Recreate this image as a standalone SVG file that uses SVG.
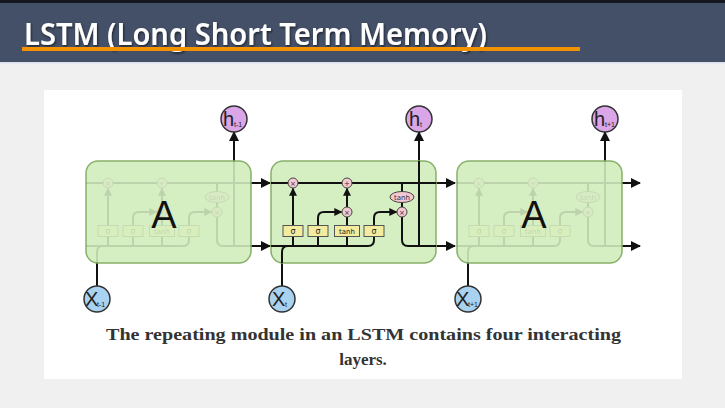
<svg xmlns="http://www.w3.org/2000/svg" xmlns:xlink="http://www.w3.org/1999/xlink" width="725" height="408" viewBox="0 0 725 408">
  <defs>
    <style>
      .ln { fill: none; stroke: #111; stroke-width: 2; }
      .box { fill: #d5efc2; stroke: #86b06a; stroke-width: 1.5; }
      .gate { fill: #f3ec9e; stroke: #555; stroke-width: 1; }
      .op { fill: #f4c9d3; stroke: #444; stroke-width: 1; }
      .gt { font-family: "DejaVu Sans", sans-serif; font-size: 8px; fill: #222; text-anchor: middle; }
      .ot { font-family: "DejaVu Sans", sans-serif; font-size: 7px; fill: #333; text-anchor: middle; }
      .hc { fill: #dba6e8; stroke: #333; stroke-width: 1.5; }
      .xc { fill: #a9d2f0; stroke: #333; stroke-width: 1.5; }
      .lbl { font-family: "Liberation Sans", sans-serif; font-size: 20px; fill: #222; }
      .sub { font-family: "Liberation Sans", sans-serif; font-size: 7px; fill: #222; }
      .big { font-family: "Liberation Sans", sans-serif; font-size: 38px; fill: #111; text-anchor: middle; }
      .cap { font-family: "Liberation Serif", serif; font-size: 17px; font-weight: bold; fill: #333; }
    </style>
    <marker id="ah" viewBox="0 0 10 10" refX="9" refY="5" markerWidth="5" markerHeight="5" orient="auto" markerUnits="strokeWidth">
      <path d="M0,0 L10,5 L0,10 z" fill="#111"/>
    </marker>
    <marker id="ahs" viewBox="0 0 10 10" refX="9" refY="5" markerWidth="4" markerHeight="4" orient="auto" markerUnits="strokeWidth">
      <path d="M0,0 L10,5 L0,10 z" fill="#111"/>
    </marker>
    <filter id="tsh" x="-5%" y="-20%" width="110%" height="140%">
      <feDropShadow dx="1" dy="1.5" stdDeviation="0.8" flood-color="#000" flood-opacity="0.55"/>
    </filter>

    <!-- inner wiring of one LSTM cell, x relative to the cell's left edge -->
    <g id="cell">
      <!-- cell state -->
      <path class="ln" d="M148,246 V161"/>
      <path class="ln" d="M0,183 H165"/>
      <!-- hidden/input bus -->
      <path class="ln" d="M0,246 H97 Q103,246 103,240 V236"/>
      <path class="ln" d="M11,263 V252 Q11,246 17,246"/>
      <path class="ln" d="M22,246 V236"/>
      <path class="ln" d="M47,246 V236"/>
      <path class="ln" d="M76,246 V236"/>
      <!-- gates to pointwise ops -->
      <path class="ln" d="M22,225 V188.5" marker-end="url(#ahs)"/>
      <path class="ln" d="M47,225 V218 Q47,212 53,212 H70.5" marker-end="url(#ahs)"/>
      <path class="ln" d="M76,225 V217"/>
      <path class="ln" d="M76,207 V188.5" marker-end="url(#ahs)"/>
      <path class="ln" d="M103,225 V218 Q103,212 109,212 H125.5" marker-end="url(#ahs)"/>
      <path class="ln" d="M131,183 V207"/>
      <path class="ln" d="M131,217 V240 Q131,246 137,246 H165"/>
      <!-- pointwise operations -->
      <circle class="op" cx="22" cy="183" r="5"/>
      <text class="ot" x="22" y="185.5">×</text>
      <circle class="op" cx="76" cy="183" r="5"/>
      <text class="ot" x="76" y="185.5">+</text>
      <circle class="op" cx="76" cy="212" r="5"/>
      <text class="ot" x="76" y="214.5">×</text>
      <circle class="op" cx="131" cy="212" r="5"/>
      <text class="ot" x="131" y="214.5">×</text>
      <ellipse class="op" cx="131" cy="197" rx="12" ry="5.5"/>
      <text class="ot" x="131" y="199.5">tanh</text>
      <!-- neural network layers -->
      <rect class="gate" x="12" y="225.5" width="20" height="11"/>
      <text class="gt" x="22" y="234">σ</text>
      <rect class="gate" x="37" y="225.5" width="20" height="11"/>
      <text class="gt" x="47" y="234">σ</text>
      <rect class="gate" x="63.5" y="225.5" width="25" height="11"/>
      <text class="gt" x="76" y="233.5" style="font-size:7px">tanh</text>
      <rect class="gate" x="93" y="225.5" width="20" height="11"/>
      <text class="gt" x="103" y="234">σ</text>
    </g>
  </defs>

  <!-- slide background -->
  <rect width="725" height="408" fill="#f0f0f0"/>
  <rect width="725" height="62" fill="#445068"/>
  <rect width="725" height="3" fill="#15181f"/>
  <rect y="62" width="725" height="1.5" fill="#dde1ef"/>
  <text x="24" y="45" font-family="'Noto Sans', 'Open Sans', sans-serif" font-size="30" font-weight="600" fill="#ffffff" textLength="463" lengthAdjust="spacingAndGlyphs" filter="url(#tsh)">LSTM (Long Short Term Memory)</text>
  <rect x="22" y="47" width="558" height="4" fill="#f39200"/>

  <!-- figure panel -->
  <rect x="44" y="90" width="638" height="289" fill="#ffffff"/>

  <!-- connectors between cells, inputs and outputs -->
  <g id="connectors">
    <path class="ln" d="M251,183 H270" marker-end="url(#ah)"/>
    <path class="ln" d="M251,246 H270" marker-end="url(#ah)"/>
    <path class="ln" d="M436,183 H455" marker-end="url(#ah)"/>
    <path class="ln" d="M436,246 H455" marker-end="url(#ah)"/>
    <path class="ln" d="M622,183 H640" marker-end="url(#ah)"/>
    <path class="ln" d="M622,246 H640" marker-end="url(#ah)"/>
    <path class="ln" d="M234,161 V132" marker-end="url(#ah)"/>
    <path class="ln" d="M419,161 V132" marker-end="url(#ah)"/>
    <path class="ln" d="M605,161 V132" marker-end="url(#ah)"/>
    <path class="ln" d="M97,286 V263"/>
    <path class="ln" d="M282,286 V263"/>
    <path class="ln" d="M468,286 V263"/>
  </g>

  <!-- previous cell (faded) -->
  <g id="cell-prev">
    <rect class="box" x="86" y="161" width="165" height="102" rx="12"/>
    <use xlink:href="#cell" href="#cell" transform="translate(86,0)" opacity="0.12"/>
    <text class="big" x="164" y="228">A</text>
  </g>

  <!-- current cell -->
  <g id="cell-cur">
    <rect class="box" x="271" y="161" width="165" height="102" rx="12"/>
    <use xlink:href="#cell" href="#cell" transform="translate(271,0)"/>
  </g>

  <!-- next cell (faded) -->
  <g id="cell-next">
    <rect class="box" x="457" y="161" width="165" height="102" rx="12"/>
    <use xlink:href="#cell" href="#cell" transform="translate(457,0)" opacity="0.12"/>
    <text class="big" x="534" y="228">A</text>
  </g>

  <!-- outputs -->
  <g id="h-prev">
    <circle class="hc" cx="234" cy="119" r="13"/>
    <text class="lbl" x="223" y="126">h</text><text class="sub" x="234" y="127">t-1</text>
  </g>
  <g id="h-cur">
    <circle class="hc" cx="419" cy="119" r="13"/>
    <text class="lbl" x="409" y="126">h</text><text class="sub" x="420" y="127">t</text>
  </g>
  <g id="h-next">
    <circle class="hc" cx="605" cy="119" r="13"/>
    <text class="lbl" x="594" y="126">h</text><text class="sub" x="605" y="127">t+1</text>
  </g>

  <!-- inputs -->
  <g id="x-prev">
    <circle class="xc" cx="97" cy="299" r="13"/>
    <text class="lbl" x="85" y="306">X</text><text class="sub" x="97" y="307">t-1</text>
  </g>
  <g id="x-cur">
    <circle class="xc" cx="282" cy="299" r="13"/>
    <text class="lbl" x="272" y="306">X</text><text class="sub" x="285" y="307">t</text>
  </g>
  <g id="x-next">
    <circle class="xc" cx="468" cy="299" r="13"/>
    <text class="lbl" x="456" y="306">X</text><text class="sub" x="468" y="307">t+1</text>
  </g>

  <!-- caption -->
  <text class="cap" x="106" y="340" textLength="515" lengthAdjust="spacingAndGlyphs">The repeating module in an LSTM contains four interacting</text>
  <text class="cap" x="363" y="365" text-anchor="middle">layers.</text>
</svg>
